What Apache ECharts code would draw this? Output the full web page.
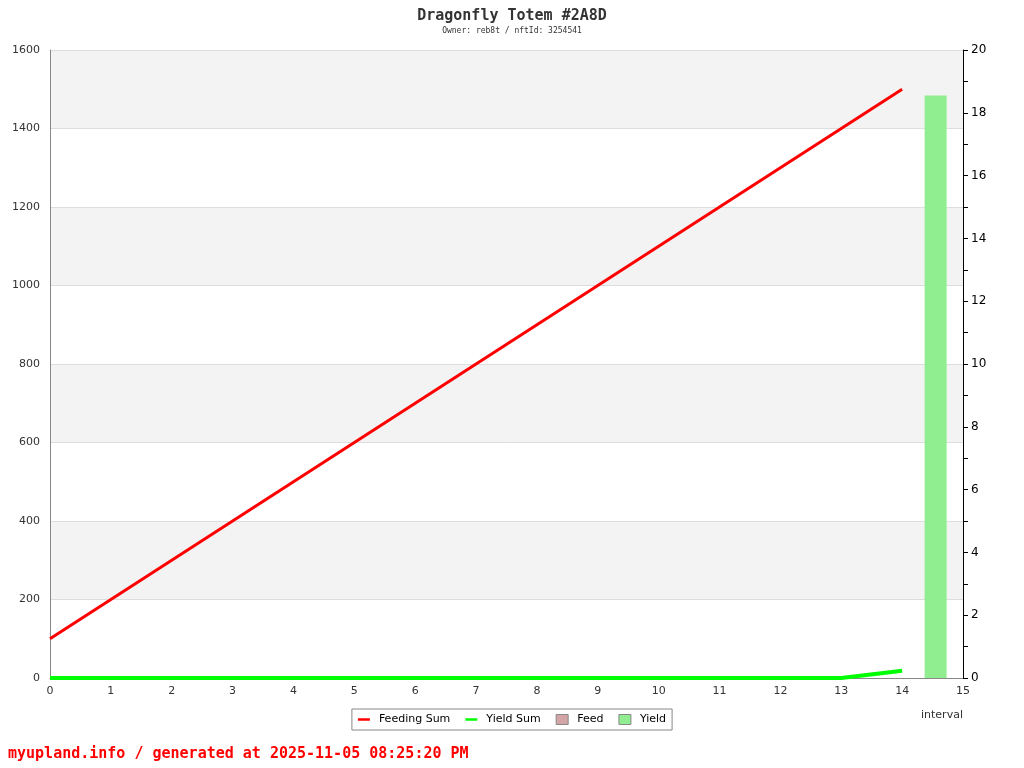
<!DOCTYPE html>
<html><head><meta charset="utf-8">
<script src="https://cdn.jsdelivr.net/npm/echarts@6/dist/echarts.min.js"></script>
<style>html,body{margin:0;padding:0;background:#fff}#c{width:1024px;height:768px}</style>
</head><body><div id="c"></div>
<script>
const intervals = [0,1,2,3,4,5,6,7,8,9,10,11,12,13,14];
const feedingSum = [100,200,300,400,500,600,700,800,900,1000,1100,1200,1300,1400,1500];
const yieldSum = [0,0,0,0,0,0,0,0,0,0,0,0,0,0,18.5];
const barPositions = [14.55];
const feed = [0];
const yieldVals = [18.55];

const chart = echarts.init(document.getElementById('c'));
const mono = '"DejaVu Sans Mono", monospace';
chart.setOption({
  animation:false,
  backgroundColor:'#fff',
  title:{
    text:'Dragonfly Totem #2A8D',
    subtext:'Owner: reb8t / nftId: 3254541',
    left:'center', top:4, itemGap:3,
    textStyle:{fontFamily:mono,fontSize:15,fontWeight:'bold',color:'#333'},
    subtextStyle:{fontFamily:mono,fontSize:8,color:'#333'}
  },
  graphic:[{type:'text',left:8,top:747,style:{text:'myupland.info / generated at 2025-11-05 08:25:20 PM',fill:'#ff0000',font:'bold 15px "DejaVu Sans Mono", monospace'}}],
  legend:{
    bottom:38, left:'center',
    borderColor:'#888', borderWidth:1, padding:[5,6],
    itemGap:15, itemWidth:12, itemHeight:10,
    textStyle:{fontFamily:'DejaVu Sans',fontSize:11,color:'#000',padding:[0,0,0,4]},
    data:[
      {name:'Feeding Sum',icon:'path://M0,4L12,4L12,6.5L0,6.5Z'},
      {name:'Yield Sum',icon:'path://M0,4L12,4L12,6.5L0,6.5Z'},
      {name:'Feed',icon:'rect',itemStyle:{borderColor:'#888',borderWidth:1}},
      {name:'Yield',icon:'rect',itemStyle:{borderColor:'#888',borderWidth:1}}
    ]
  },
  grid:{left:50,right:61,top:50,bottom:90,containLabel:false},
  xAxis:{
    type:'value',min:0,max:15,interval:1,
    name:'interval',nameLocation:'end',nameGap:0,
    nameTextStyle:{fontFamily:'DejaVu Sans',fontSize:11,color:'#333',padding:[32,0,0,-42],verticalAlign:'top'},
    axisLine:{show:true,lineStyle:{color:'#888',width:1}},
    axisTick:{show:false},
    axisLabel:{fontFamily:'DejaVu Sans',fontSize:11,color:'#333',margin:8},
    splitLine:{show:false}
  },
  yAxis:[{
    type:'value',min:0,max:1600,interval:200,position:'left',
    axisLine:{show:true,lineStyle:{color:'#888'}},
    axisTick:{show:false},
    axisLabel:{fontFamily:'DejaVu Sans',fontSize:11,color:'#333',margin:10,formatter:v=>String(v)},
    splitLine:{show:true,lineStyle:{color:'#ddd'}},
    splitArea:{show:true,areaStyle:{color:['#ffffff','#f3f3f3']}}
  },{
    type:'value',min:0,max:20,interval:2,position:'right',
    axisLine:{show:true,lineStyle:{color:'#000'}},
    axisTick:{show:true,length:5,lineStyle:{color:'#000'}},
    minorTick:{show:true,splitNumber:2,length:5,lineStyle:{color:'#000'}},
    axisLabel:{fontFamily:'DejaVu Sans',fontSize:12,color:'#000',margin:8},
    splitLine:{show:false}
  }],
  series:[
    {name:'Feeding Sum',type:'line',yAxisIndex:0,symbol:'none',color:'#ff0000',
     lineStyle:{width:3,color:'#ff0000'},data:intervals.map((x,i)=>[x,feedingSum[i]]),z:3},
    {name:'Yield Sum',type:'line',yAxisIndex:0,symbol:'none',color:'#00ff00',
     lineStyle:{width:4,color:'#00ff00'},data:intervals.map((x,i)=>[x,yieldSum[i]]),z:4},
    {name:'Feed',type:'bar',yAxisIndex:1,barWidth:22,barGap:'-100%',
     itemStyle:{color:'#d4a5a5'},
     data:barPositions.map((x,i)=>[x,feed[i]])},
    {name:'Yield',type:'bar',yAxisIndex:1,barWidth:22,barGap:'-100%',
     itemStyle:{color:'#90ee90'},
     data:barPositions.map((x,i)=>[x,yieldVals[i]])}
  ]
});
</script></body></html>
